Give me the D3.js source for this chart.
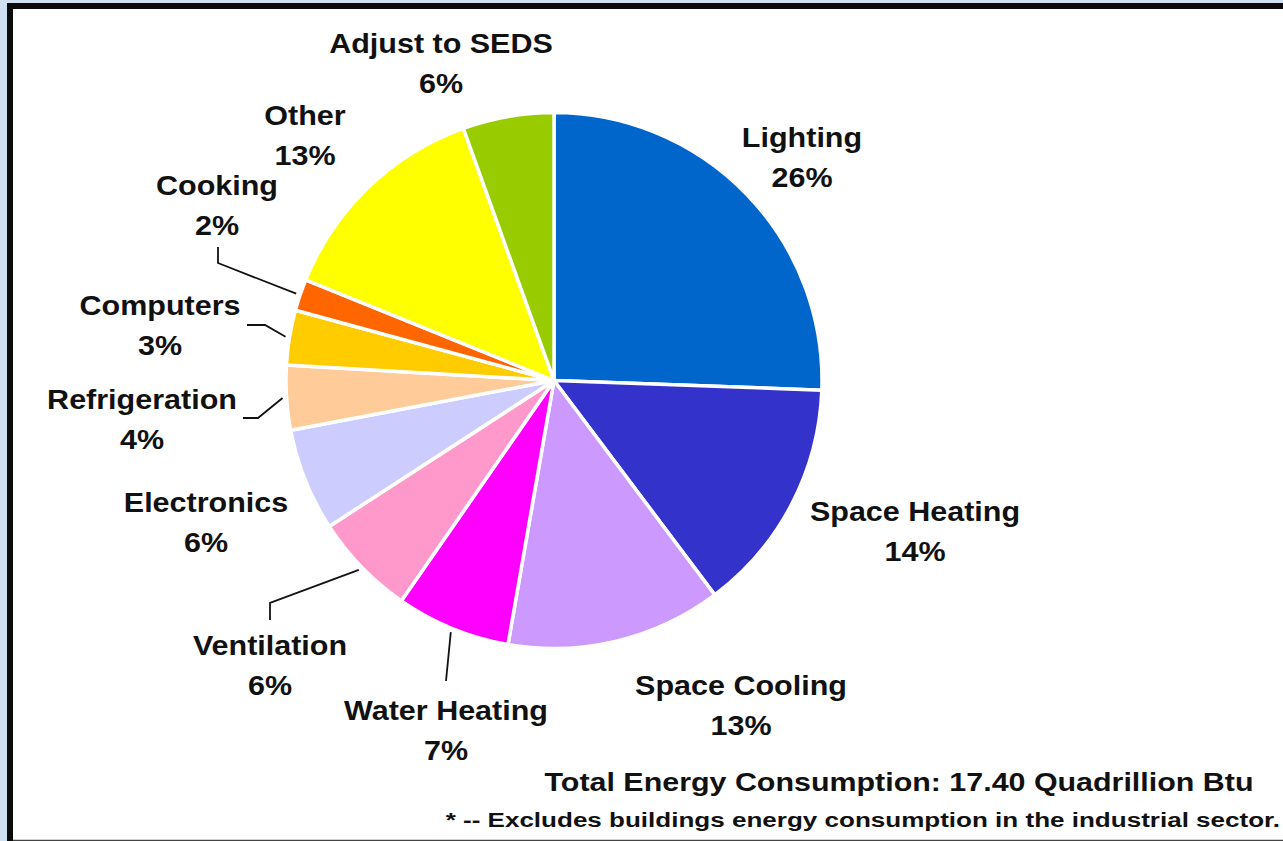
<html>
	<head>
		<script type="text/javascript" src="https://cdn.jsdelivr.net/npm/d3@7/dist/d3.min.js"></script>
		<style>
			body{
				margin:0;
				background:#cfe1f1;
			}
			svg{
				display:block;
			}
			.lbl{
				font-family:"Liberation Sans", Arial, sans-serif;
				font-weight:bold;
				font-size:28px;
				fill:#111;
			}
			.note{
				font-family:"Liberation Sans", Arial, sans-serif;
				font-weight:bold;
				fill:#111;
			}
		</style>
	</head>
	<body>
		<div id="container"></div>
		<script type="text/javascript">

			// end uses, clockwise from 12 o'clock
			var categories = ["Lighting", "Space Heating", "Space Cooling", "Water Heating", "Ventilation",
				"Electronics", "Refrigeration", "Computers", "Cooking", "Other", "Adjust to SEDS"];
			var shares = [25.6, 14.2, 13.0, 6.9, 6.2, 6.2, 3.9, 3.3, 1.9, 13.4, 5.5];
			var colors = ["#0066cc", "#3333cc", "#cc99ff", "#ff00ff", "#ff99cc",
				"#ccccff", "#ffcc99", "#ffcc00", "#ff6600", "#ffff00", "#99cc00"];
			var totalText = "Total Energy Consumption: 17.40 Quadrillion Btu";
			var footText = "* -- Excludes buildings energy consumption in the industrial sector.";

			// label placement (text centre x, baseline of first line)
			var labelPos = {
				"Lighting": [802, 147],
				"Space Heating": [915, 521],
				"Space Cooling": [741, 695],
				"Water Heating": [446, 720],
				"Ventilation": [270, 655],
				"Electronics": [206, 512],
				"Refrigeration": [142, 409],
				"Computers": [160, 315],
				"Cooking": [217, 195],
				"Other": [305, 125],
				"Adjust to SEDS": [441, 53]
			};
			// leader line bends (after the point on the pie edge)
			var leaders = {
				"Cooking": [[218, 263], [218, 247]],
				"Computers": [[265, 325], [247, 325]],
				"Refrigeration": [[258, 418], [243, 418]],
				"Ventilation": [[270, 603], [270, 620]],
				"Water Heating": [[446, 681]]
			};

			var width = 1283, height = 841,
				cx = 554, cy = 380.5, r = 268;

			var svg = d3.select("#container").append("svg")
				.attr("width", width)
				.attr("height", height);

			// frame
			svg.append("rect")
				.attr("x", 7).attr("y", 3)
				.attr("width", width).attr("height", 837)
				.attr("fill", "#fff");
			svg.append("path")
				.attr("d", "M10 841V6H1290")
				.attr("fill", "none")
				.attr("stroke", "#0a0a0a")
				.attr("stroke-width", 6);
			svg.append("line")
				.attr("x1", 13).attr("x2", width)
				.attr("y1", 840.5).attr("y2", 840.5)
				.attr("stroke", "#444")
				.attr("stroke-width", 1.5);

			var data = categories.map(function(c, i){
				return {name: c, value: shares[i], color: colors[i]};
			});

			var pie = d3.pie()
				.sort(null)
				.value(function(d){ return d.value; });

			var arc = d3.arc()
				.innerRadius(0)
				.outerRadius(r);

			var arcs = pie(data);

			var g = svg.append("g")
				.attr("transform", "translate(" + cx + "," + cy + ")");

			g.selectAll("path").data(arcs).enter().append("path")
				.attr("d", arc)
				.attr("fill", function(d){ return d.data.color; })
				.attr("stroke", "#fff")
				.attr("stroke-width", 3.5)
				.attr("stroke-linejoin", "round");

			// leader lines
			arcs.forEach(function(d){
				var pts = leaders[d.data.name];
				if(!pts) return;
				var a = (d.startAngle + d.endAngle) / 2,
					p0 = [cx + (r + 4) * Math.sin(a), cy - (r + 4) * Math.cos(a)];
				svg.append("path")
					.attr("d", d3.line()([p0].concat(pts)))
					.attr("fill", "none")
					.attr("stroke", "#111")
					.attr("stroke-width", 1.8);
			});

			// labels
			arcs.forEach(function(d){
				var p = labelPos[d.data.name];
				var t = svg.append("text")
					.attr("class", "lbl")
					.attr("text-anchor", "middle")
					.attr("transform", "translate(" + p[0] + "," + p[1] + ") scale(1.09,1)");
				t.append("tspan").attr("x", 0).attr("y", 0).text(d.data.name);
				t.append("tspan").attr("x", 0).attr("y", 40).text(Math.round(d.data.value) + "%");
			});

			svg.append("text")
				.attr("class", "note")
				.attr("text-anchor", "middle")
				.attr("font-size", 26)
				.attr("transform", "translate(899,791) scale(1.17,1)")
				.text(totalText);

			svg.append("text")
				.attr("class", "note")
				.attr("text-anchor", "end")
				.attr("font-size", 21)
				.attr("transform", "translate(1280,827) scale(1.24,1)")
				.text(footText);

		</script>
	</body>
</html>
